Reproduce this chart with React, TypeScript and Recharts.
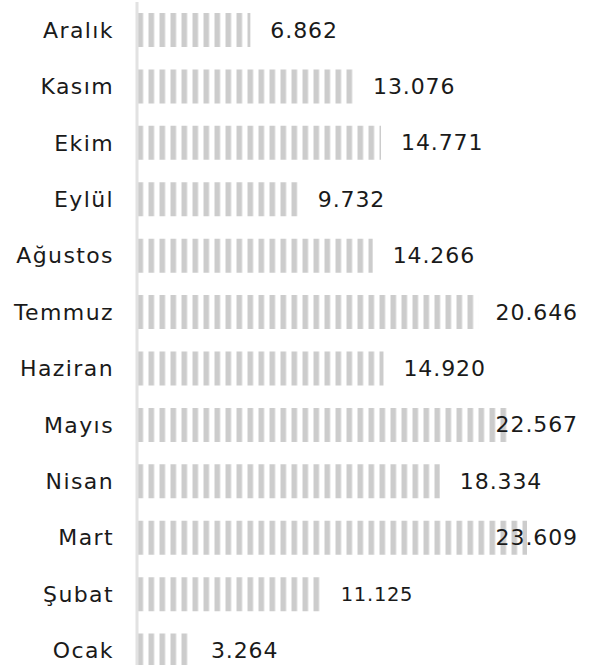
import { Bar, BarChart, LabelList, XAxis, YAxis } from "recharts";

const months = [
  "Aralık",
  "Kasım",
  "Ekim",
  "Eylül",
  "Ağustos",
  "Temmuz",
  "Haziran",
  "Mayıs",
  "Nisan",
  "Mart",
  "Şubat",
  "Ocak",
];

const counts = [
  6862, 13076, 14771, 9732, 14266, 20646, 14920, 22567, 18334, 23609, 11125,
  3264,
];

const data = months.map((month, i) => ({ month, count: counts[i] }));

const FONT = "'DejaVu Sans', sans-serif";
const RIGHT_EDGE = 578;

function formatCount(v: number): string {
  return String(v).replace(/\B(?=(\d{3})+(?!\d))/g, ".");
}

function MonthTick(props: any) {
  const { y, payload } = props;
  return (
    <text
      x={114}
      y={y}
      textAnchor="end"
      dominantBaseline="central"
      fontFamily={FONT}
      fontSize={22}
      letterSpacing={1.4}
      fill="#1a1a1a"
    >
      {payload.value}
    </text>
  );
}

function CountLabel(props: any) {
  const { x, y, width, height, value, index } = props;
  const text = formatCount(value);
  // the Şubat label is drawn a bit smaller in the original
  const small = months[index] === "Şubat";
  const size = small ? 19.5 : 22;
  const spacing = small ? 0.7 : 0.9;
  const estWidth = text.length * (size * 0.58 + spacing);
  const end = x + width + 20;
  const clamped = end + estWidth > RIGHT_EDGE;
  return (
    <text
      x={clamped ? RIGHT_EDGE : end}
      y={y + height / 2}
      textAnchor={clamped ? "end" : "start"}
      dominantBaseline="central"
      fontFamily={FONT}
      fontSize={size}
      letterSpacing={spacing}
      fill="#1a1a1a"
    >
      {text}
    </text>
  );
}

export default function App() {
  return (
    <div style={{ position: "absolute", top: 0, left: 0 }}>
      <BarChart
        width={591}
        height={679}
        data={data}
        layout="vertical"
        margin={{ top: 2, right: 64, bottom: 0, left: 0 }}
        barSize={34}
      >
        <defs>
          <pattern
            id="month-stripes"
            patternUnits="userSpaceOnUse"
            x={137.5}
            y={0}
            width={11}
            height={10}
          >
            <rect x={0} y={0} width={5.6} height={10} fill="#cccccc" />
          </pattern>
        </defs>
        <XAxis type="number" domain={[0, "dataMax"]} hide />
        <YAxis
          type="category"
          dataKey="month"
          width={137}
          tick={<MonthTick />}
          tickLine={false}
          axisLine={{ stroke: "#e2e2e2", strokeWidth: 3 }}
          interval={0}
        />
        <Bar
          dataKey="count"
          fill="url(#month-stripes)"
          isAnimationActive={false}
        >
          <LabelList dataKey="count" content={<CountLabel />} />
        </Bar>
      </BarChart>
    </div>
  );
}
